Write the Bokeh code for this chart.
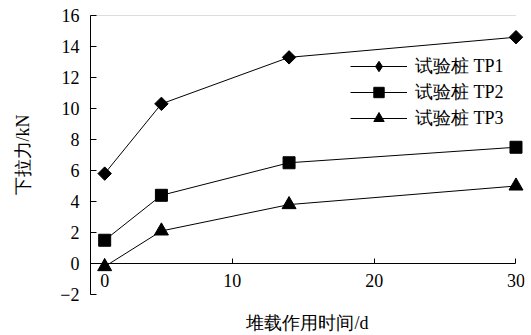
import math

from bokeh.embed import file_html
from bokeh.models import (ColumnDataSource, FixedTicker, Legend, LegendItem,
                          LinearAxis, Range1d)
from bokeh.plotting import figure
from bokeh.resources import INLINE

# Uplift (down-drag) force of the three test piles against surcharge duration
days = [1, 5, 14, 30]
tp1 = [5.8, 10.3, 13.3, 14.6]
tp2 = [1.5, 4.4, 6.5, 7.5]
tp3 = [-0.2, 2.1, 3.8, 5.0]
series_names = ["试验桩 TP1", "试验桩 TP2", "试验桩 TP3"]

x_ticks = [1, 10, 20, 30]
x_tick_labels = ["0", "10", "20", "30"]
y_ticks = [-2, 0, 2, 4, 6, 8, 10, 12, 14, 16]
y_tick_labels = ["−2", "0", "2", "4", "6", "8", "10", "12", "14", "16"]

x_title = "堆载作用时间/d"
y_title = "下拉力/kN"

FONT = "Liberation Serif"

p = figure(
    width=531, height=335,
    output_backend="svg", toolbar_location=None,
    x_range=Range1d(0, 30.6), y_range=Range1d(-2, 16),
    min_border_left=90, min_border_right=7,
    min_border_top=15, min_border_bottom=38,
)
p.outline_line_color = None
p.xgrid.visible = False
p.ygrid.visible = False
p.background_fill_color = "white"
p.border_fill_color = "white"

# x axis drawn along y = 0
xa = p.xaxis[0]
xa.fixed_location = 0
xa.bounds = (0, 30)
xa.ticker = FixedTicker(ticks=x_ticks)
xa.major_label_overrides = dict(zip(x_ticks, x_tick_labels))
xa.major_tick_in = 5
xa.major_tick_out = 0
xa.minor_tick_line_color = None
xa.axis_line_color = "black"
xa.major_tick_line_color = "black"
xa.major_label_text_font = FONT
xa.major_label_text_font_size = "18px"
xa.major_label_text_color = "black"
xa.major_label_standoff = 10

# title of the time axis, under the frame
xtitle = LinearAxis(
    ticker=FixedTicker(ticks=[]), axis_line_color=None,
    major_tick_out=0, major_tick_in=0, major_label_standoff=0,
    axis_label=x_title, axis_label_standoff=18,
    axis_label_text_font=FONT, axis_label_text_font_size="18px",
    axis_label_text_font_style="normal", axis_label_text_color="black",
)
p.add_layout(xtitle, "below")

ya = p.yaxis[0]
ya.ticker = FixedTicker(ticks=y_ticks)
ya.major_label_overrides = dict(zip(y_ticks, y_tick_labels))
ya.major_tick_in = 6
ya.major_tick_out = 0
ya.minor_tick_line_color = None
ya.axis_line_color = "black"
ya.major_tick_line_color = "black"
ya.major_label_text_font = FONT
ya.major_label_text_font_size = "18px"
ya.major_label_text_color = "black"
ya.major_label_standoff = 11
ya.axis_label = y_title
ya.axis_label_text_font = FONT
ya.axis_label_text_font_size = "18px"
ya.axis_label_text_font_style = "normal"
ya.axis_label_text_color = "black"
ya.axis_label_standoff = 24

# faint dotted frame line along the top
top = LinearAxis(
    bounds=(0, 30), ticker=FixedTicker(ticks=[]),
    axis_line_color="#bbbbbb", axis_line_dash="1 1",
    major_tick_line_color=None, minor_tick_line_color=None,
    major_tick_out=0, major_label_standoff=0,
)
p.add_layout(top, "above")

series = [tp1, tp2, tp3]
markers = ["square", "square", "triangle"]
sizes = [9.5, 12, 14]
angles = [math.pi / 4, 0.0, 0.0]   # first series: square turned into a diamond

items = []
for ys, marker, size, angle, name in zip(series, markers, sizes, angles, series_names):
    src = ColumnDataSource(dict(x=days, y=ys))
    ln = p.line("x", "y", source=src, line_color="black", line_width=1)
    if angle:
        # diamond lying inside the turned squares; it supplies the legend key
        key = p.scatter("x", "y", source=src, marker="diamond", size=12,
                        fill_color="black", line_color="black")
    sc = p.scatter("x", "y", source=src, marker=marker, size=size, angle=angle,
                   fill_color="black", line_color="black")
    if not angle:
        key = sc
    items.append(LegendItem(label=name, renderers=[ln, key]))

legend = Legend(
    items=items, location=(260, 163),
    glyph_width=57, glyph_height=26, label_standoff=8, spacing=0,
    padding=0, margin=0,
    border_line_color=None, background_fill_alpha=0,
    label_text_font=FONT, label_text_font_size="18px", label_text_color="black",
)
p.add_layout(legend)

open("out.html", "w").write(file_html(p, INLINE))
